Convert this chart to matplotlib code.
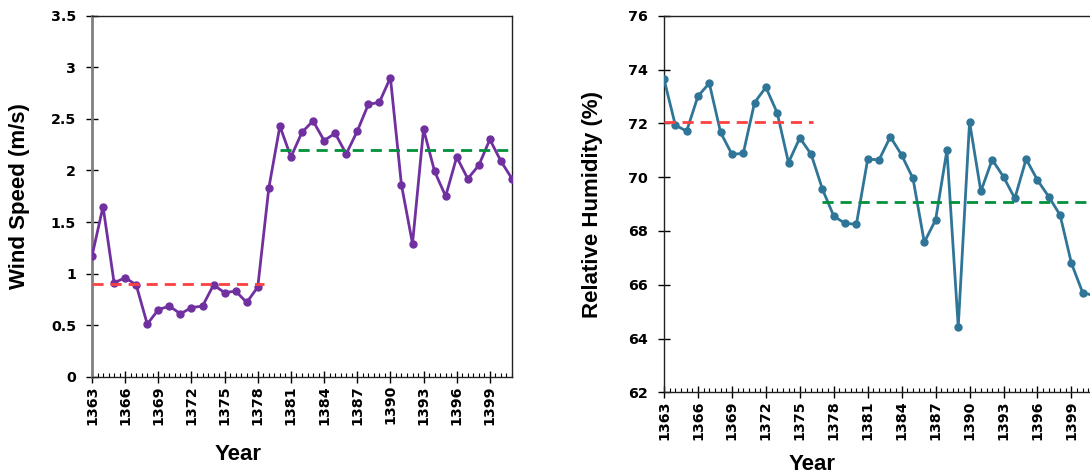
import numpy as np
import matplotlib
matplotlib.use('Agg')
import matplotlib.pyplot as plt

# Datos
years = list(range(1363, 1402))
wind_speed = [1.17, 1.65, 0.91, 0.96, 0.89, 0.51, 0.65, 0.685, 0.61, 0.67,
              0.685, 0.89, 0.815, 0.83, 0.72, 0.87, 1.83, 2.43, 2.13, 2.37,
              2.48, 2.29, 2.36, 2.16, 2.38, 2.64, 2.66, 2.90, 1.86, 1.29,
              2.40, 1.99, 1.75, 2.13, 1.92, 2.05, 2.30, 2.09, 1.92]
humidity = [73.64, 71.93, 71.71, 73.01, 73.49, 71.66, 70.85, 70.88, 72.77, 73.34,
            72.39, 70.54, 71.46, 70.85, 69.55, 68.55, 68.28, 68.25, 70.67, 70.64,
            71.50, 70.82, 69.95, 67.58, 68.41, 71.00, 64.43, 72.05, 69.47, 70.65,
            70.01, 69.21, 70.67, 69.89, 69.27, 68.59, 66.80, 65.70, 65.60]

wind_ticks = [0, 0.5, 1, 1.5, 2, 2.5, 3, 3.5]
wind_ticklabels = ['0', '0.5', '1', '1.5', '2', '2.5', '3', '3.5']
hum_ticks = [62, 64, 66, 68, 70, 72, 74, 76]
year_ticks = list(range(1363, 1400, 3))

# Medias de los periodos (inicio, fin, valor, color)
wind_means = [(1363, 1378.6, 0.90, '#FF4040'), (1380, 1400.6, 2.20, '#00913A')]
hum_means = [(1363, 1376.2, 72.04, '#FF4040'), (1377, 1401, 69.09, '#00913A')]

TICK_FONT = dict(family='DejaVu Sans', weight='bold', size=10.3)
LABEL_FONT = dict(family='Liberation Sans', weight='bold', size=16)


def style_axis(ax, yticks, yticklabels):
    ax.set_xlim(1363, 1401)
    ax.set_ylim(yticks[0], yticks[-1])
    ax.set_yticks(yticks)
    ax.set_yticklabels(yticklabels, **TICK_FONT)
    ax.set_xticks(year_ticks)
    ax.set_xticklabels([str(y) for y in year_ticks], rotation=90, **TICK_FONT)
    ax.set_xticks(np.arange(1363, 1401.01, 0.5), minor=True)
    ax.tick_params(axis='x', which='major', direction='inout', length=8, width=1, pad=2)
    ax.tick_params(axis='x', which='minor', direction='in', length=3, width=0.8)
    ax.tick_params(axis='y', which='major', direction='inout', length=9, width=1, pad=7)
    for sp in ax.spines.values():
        sp.set_linewidth(1)
        sp.set_color('#222222')


def main():
    fig = plt.figure(figsize=(10.9, 4.75), dpi=100)

    # Panel izquierdo: velocidad del viento
    ax1 = fig.add_axes([0.0844, 0.2069, 0.3853, 0.760])
    ax1.plot(years, wind_speed, color='#7030A0', lw=2, marker='o', ms=5, zorder=3)
    for x0, x1, v, c in wind_means:
        ax1.plot([x0, x1], [v, v], color=c, lw=2, ls=(0, (4, 2.5)), zorder=4)
    style_axis(ax1, wind_ticks, wind_ticklabels)
    ax1.spines['left'].set_color('#808080')
    ax1.spines['left'].set_linewidth(2)
    ax1.set_xlabel('Year', **LABEL_FONT)
    ax1.set_ylabel('Wind Speed (m/s)', **LABEL_FONT)
    ax1.xaxis.set_label_coords(0.348, -0.186)
    ax1.yaxis.set_label_coords(-0.148, 0.5)

    # Panel derecho: humedad relativa
    ax2 = fig.add_axes([0.6092, 0.1741, 0.3945, 0.7928])
    ax2.plot(years, humidity, color='#2F7597', lw=2, marker='o', ms=5, zorder=3)
    for x0, x1, v, c in hum_means:
        ax2.plot([x0, x1], [v, v], color=c, lw=2, ls=(0, (4, 2.5)), zorder=4)
    style_axis(ax2, hum_ticks, [str(t) for t in hum_ticks])
    ax2.set_xlabel('Year', **LABEL_FONT)
    ax2.set_ylabel('Relative Humidity (%)', **LABEL_FONT)
    ax2.xaxis.set_label_coords(0.344, -0.163)
    ax2.yaxis.set_label_coords(-0.142, 0.5)

    fig.savefig('out.png', dpi=100)


if __name__ == '__main__':
    main()
